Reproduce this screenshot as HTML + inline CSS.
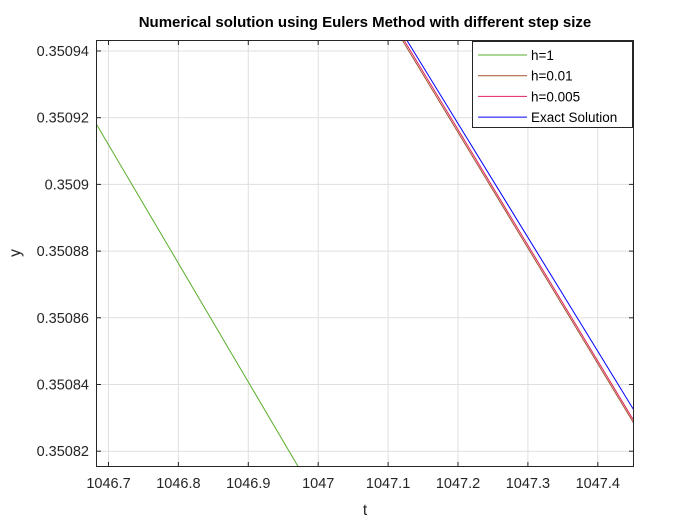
<!DOCTYPE html>
<html><head><meta charset="utf-8"><style>
body{margin:0;background:#fff}
svg text{font-family:"Liberation Sans",Arial,sans-serif}
</style></head><body>
<svg id="chart" width="700" height="525" xmlns="http://www.w3.org/2000/svg"></svg>
<script>
const xTicks=[1046.7,1046.8,1046.9,1047,1047.1,1047.2,1047.3,1047.4];
const xTickLabels=["1046.7","1046.8","1046.9","1047","1047.1","1047.2","1047.3","1047.4"];
const yTicks=[0.35082,0.35084,0.35086,0.35088,0.3509,0.35092,0.35094];
const yTickLabels=["0.35082","0.35084","0.35086","0.35088","0.3509","0.35092","0.35094"];
const seriesNames=["h=1","h=0.01","h=0.005","Exact Solution"];
const h1T=[1046.682,1046.971];
const h1Y=[0.3509183,0.3508155];
const h001T=[1047.121,1047.452];
const h001Y=[0.350943,0.3508282];
const h0005T=[1047.1235,1047.452];
const h0005Y=[0.350943,0.3508290];
const exactT=[1047.1275,1047.452];
const exactY=[0.350943,0.3508322];

const L=96,R=634,T=40,B=467;
const X0=1046.7,XP=108.5,XS=699;
const Y0=0.35094,YP=51,YS=66.7/0.00002;
const xs=v=>XP+(v-X0)*XS;
const ys=v=>YP-(v-Y0)*YS;
const svg=document.getElementById('chart');
const NS="http://www.w3.org/2000/svg";
function mk(tag,at,parent){const e=document.createElementNS(NS,tag);for(const k in at)e.setAttribute(k,at[k]);(parent||svg).appendChild(e);return e;}

const bg=mk('rect',{x:L,y:T,width:R-L,height:B-T,fill:'#fff'});


const defs=mk('defs',{});
const cp=mk('clipPath',{id:'clip'},defs);
mk('rect',{x:L,y:T,width:R-L,height:B-T},cp);

const grid=mk('g',{stroke:'#dfdfdf','stroke-width':1});


xTicks.forEach(v=>mk('line',{x1:xs(v),x2:xs(v),y1:T,y2:B},grid));
yTicks.forEach(v=>mk('line',{x1:L,x2:R,y1:ys(v),y2:ys(v)},grid));

const colors=['#5aad2b','#a0522d','#e0205a','#0000ff'];
const data=[[h1T,h1Y],[h001T,h001Y],[h0005T,h0005Y],[exactT,exactY]];
const names=['series-h1','series-h0-01','series-h0-005','series-exact'];
const lines=mk('g',{'clip-path':'url(#clip)'});
data.forEach((d,i)=>{
  const pts=d[0].map((t,j)=>xs(t)+','+ys(d[1][j])).join(' ');
  const p=mk('polyline',{points:pts,fill:'none',stroke:colors[i],'stroke-width':1},lines);
  
  
});

const ax=mk('g',{stroke:'#262626','stroke-width':1,fill:'none'});


mk('rect',{x:L+0.5,y:T+0.5,width:R-L-1,height:B-T-1},ax);
xTicks.forEach(v=>{mk('line',{x1:xs(v),x2:xs(v),y1:B,y2:B-5},ax);mk('line',{x1:xs(v),x2:xs(v),y1:T,y2:T+5},ax);});
yTicks.forEach(v=>{mk('line',{x1:L,x2:L+5,y1:ys(v),y2:ys(v)},ax);mk('line',{x1:R,x2:R-5,y1:ys(v),y2:ys(v)},ax);});

xTicks.forEach((v,i)=>{const t=mk('text',{x:xs(v),y:B+21,'text-anchor':'middle','font-size':14.5,fill:'#262626'});t.textContent=xTickLabels[i];

});
yTicks.forEach((v,i)=>{const t=mk('text',{x:L-7,y:ys(v)+5,'text-anchor':'end','font-size':14.5,fill:'#262626'});t.textContent=yTickLabels[i];

});

const xt=mk('text',{x:(L+R)/2,y:515,'text-anchor':'middle','font-size':15.5,fill:'#262626'});xt.textContent='t';


const yt=mk('text',{x:20,y:253,'text-anchor':'middle','font-size':15.5,fill:'#262626',transform:'rotate(-90 20 253)'});yt.textContent='y';


const tt=mk('text',{x:365,y:27,'text-anchor':'middle','font-size':15,'font-weight':'bold',fill:'#000'});tt.textContent='Numerical solution using Eulers Method with different step size';



const lg=mk('g',{});


mk('rect',{x:472.5,y:41.5,width:160,height:86,fill:'#fff',stroke:'#262626','stroke-width':1},lg);
seriesNames.forEach((n,i)=>{
  const y=55+i*20.7;
  const e=mk('g',{},lg);
  
  
  mk('line',{x1:478,x2:527,y1:y,y2:y,stroke:colors[i],'stroke-width':1},e);
  const t=mk('text',{x:531,y:y+5,'font-size':13.5,fill:'#000'},e);t.textContent=n;
});
</script>
</body></html>
